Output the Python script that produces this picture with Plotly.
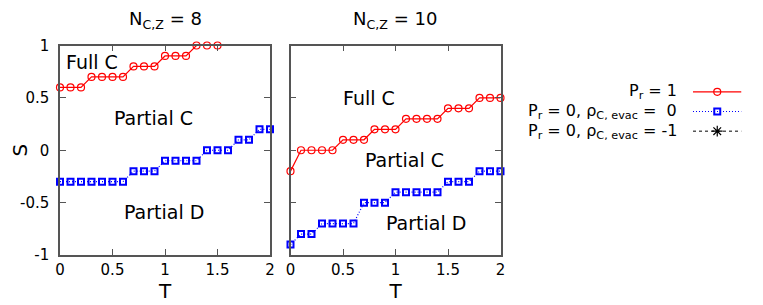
import plotly.graph_objects as go

T_red_left = [0.0, 0.1, 0.2, 0.3, 0.4, 0.5, 0.6, 0.7, 0.8, 0.9, 1.0, 1.1, 1.2, 1.3, 1.4, 1.5]
S_red_left = [0.6, 0.6, 0.6, 0.7, 0.7, 0.7, 0.7, 0.8, 0.8, 0.8, 0.9, 0.9, 0.9, 1.0, 1.0, 1.0]
T_full = [0.0, 0.1, 0.2, 0.3, 0.4, 0.5, 0.6, 0.7, 0.8, 0.9, 1.0,
          1.1, 1.2, 1.3, 1.4, 1.5, 1.6, 1.7, 1.8, 1.9, 2.0]
S_blue_left = [-0.3, -0.3, -0.3, -0.3, -0.3, -0.3, -0.3, -0.2, -0.2, -0.2, -0.1,
               -0.1, -0.1, -0.1, 0.0, 0.0, 0.0, 0.1, 0.1, 0.2, 0.2]
S_red_right = [-0.2, 0.0, 0.0, 0.0, 0.0, 0.1, 0.1, 0.1, 0.2, 0.2, 0.2,
               0.3, 0.3, 0.3, 0.3, 0.4, 0.4, 0.4, 0.5, 0.5, 0.5]
S_blue_right = [-0.9, -0.8, -0.8, -0.7, -0.7, -0.7, -0.7, -0.5, -0.5, -0.5, -0.4,
                -0.4, -0.4, -0.4, -0.4, -0.3, -0.3, -0.3, -0.2, -0.2, -0.2]

panel_titles = ["N<sub>C,Z</sub> = 8", "N<sub>C,Z</sub> = 10"]
legend_labels = ["P<sub>r</sub> = 1",
                 "P<sub>r</sub> = 0, ρ<sub>C, evac</sub> =  0",
                 "P<sub>r</sub> = 0, ρ<sub>C, evac</sub> = -1"]
x_ticks = [0, 0.5, 1, 1.5, 2]
x_ticklabels = ["0", "0.5", "1", "1.5", "2"]
y_ticks = [-1, -0.5, 0, 0.5, 1]
y_ticklabels = ["-1", "-0.5", "0", "0.5", "1"]

FONT = "DejaVu Sans"
RED = "#ff0000"
BLUE = "#0000ff"
AX = "#555555"

# page body has an 8px margin: size the figure so it ends at the window edge
OFF = 8
W, H = 763 - OFF, 305 - OFF


def px(x):
    return (x - OFF) / W


def py(y):
    return 1 - (y - OFF) / H


fig = go.Figure()

red_style = dict(mode="lines+markers", line=dict(color=RED, width=1.2),
                 marker=dict(symbol="circle-open", size=7, color=RED, line=dict(width=1.2)),
                 cliponaxis=False, showlegend=False)
blue_style = dict(mode="lines+markers", line=dict(color=BLUE, width=1.2, dash="1px,2px"),
                  marker=dict(symbol="square-open", size=6, color=BLUE, line=dict(width=2)),
                  cliponaxis=False, showlegend=False)

fig.add_trace(go.Scatter(x=T_red_left, y=S_red_left, xaxis="x", yaxis="y", **red_style))
fig.add_trace(go.Scatter(x=T_full, y=S_blue_left, xaxis="x", yaxis="y", **blue_style))
fig.add_trace(go.Scatter(x=T_full, y=S_red_right, xaxis="x2", yaxis="y2", **red_style))
fig.add_trace(go.Scatter(x=T_full, y=S_blue_right, xaxis="x2", yaxis="y2", **blue_style))

# custom legend (samples on right, text right-aligned to the left)
leg_y = [2, 1, 0]
fig.add_trace(go.Scatter(x=[0, 1], y=[leg_y[0]] * 2, xaxis="x3", yaxis="y3", mode="lines",
                         line=dict(color=RED, width=1.2), showlegend=False, hoverinfo="skip"))
fig.add_trace(go.Scatter(x=[0.5], y=[leg_y[0]], xaxis="x3", yaxis="y3", mode="markers",
                         marker=dict(symbol="circle-open", size=7, color=RED, line=dict(width=1.2)),
                         showlegend=False, hoverinfo="skip"))
fig.add_trace(go.Scatter(x=[0, 1], y=[leg_y[1]] * 2, xaxis="x3", yaxis="y3", mode="lines",
                         line=dict(color=BLUE, width=1.2, dash="1px,2px"), showlegend=False, hoverinfo="skip"))
fig.add_trace(go.Scatter(x=[0.5], y=[leg_y[1]], xaxis="x3", yaxis="y3", mode="markers",
                         marker=dict(symbol="square-open", size=6, color=BLUE, line=dict(width=2)),
                         showlegend=False, hoverinfo="skip"))
fig.add_trace(go.Scatter(x=[0, 1], y=[leg_y[2]] * 2, xaxis="x3", yaxis="y3", mode="lines",
                         line=dict(color="black", width=1, dash="3px,3px"), showlegend=False, hoverinfo="skip"))
fig.add_trace(go.Scatter(x=[0.5], y=[leg_y[2]], xaxis="x3", yaxis="y3", mode="markers",
                         marker=dict(symbol="asterisk-open", size=9, color="black", line=dict(width=1.2)),
                         showlegend=False, hoverinfo="skip"))

axis_common = dict(range=[0, 2], tickvals=x_ticks, ticktext=x_ticklabels, ticks="inside",
                   ticklen=6, tickcolor=AX, showline=True, linecolor=AX, linewidth=1.5,
                   mirror="ticks", showgrid=False, zeroline=False, automargin=False,
                   tickfont=dict(family=FONT, size=15, color="black"),
                   title=dict(text="T", font=dict(family=FONT, size=20, color="black"), standoff=3))
yaxis_common = dict(range=[-1, 1], tickvals=y_ticks, ticktext=y_ticklabels, ticks="inside",
                    ticklen=6, tickcolor=AX, showline=True, linecolor=AX, linewidth=1.5,
                    mirror="ticks", showgrid=False, zeroline=False, automargin=False,
                    tickfont=dict(family=FONT, size=15, color="black"))

y0, y1 = py(255), py(45.5)
fig.update_layout(
    width=W, height=H,
    margin=dict(l=0, r=0, t=0, b=0, autoexpand=False),
    paper_bgcolor="white", plot_bgcolor="white",
    font=dict(family=FONT, color="black"),
    xaxis=dict(domain=[px(60), px(270)], anchor="y", **axis_common),
    yaxis=dict(domain=[y0, y1], anchor="x", ticklabelstandoff=6,
               title=dict(text="S", font=dict(family=FONT, size=20, color="black"), standoff=12),
               **yaxis_common),
    xaxis2=dict(domain=[px(290.5), px(500.5)], anchor="y2", **axis_common),
    yaxis2=dict(domain=[y0, y1], anchor="x2", showticklabels=False, **yaxis_common),
    xaxis3=dict(domain=[px(693), px(741.5)], anchor="y3", range=[0, 1], visible=False),
    yaxis3=dict(domain=[py(141), py(82)], anchor="x3", range=[-0.5, 2.5], visible=False),
)

ann = []
for i, (t, xc) in enumerate(zip(panel_titles, [165, 395.5])):
    ann.append(dict(text=t, x=px(xc), y=py(20), xref="paper", yref="paper",
                    showarrow=False, font=dict(family=FONT, size=18, color="black"),
                    xanchor="center", yanchor="middle"))
labels = [("x", "y", 0.305, 0.845, "Full C"), ("x", "y", 0.886, 0.31, "Partial C"),
          ("x", "y", 0.99, -0.59, "Partial D"), ("x2", "y2", 0.752, 0.503, "Full C"),
          ("x2", "y2", 1.084, -0.095, "Partial C"), ("x2", "y2", 1.289, -0.697, "Partial D")]
for xr, yr, xv, yv, t in labels:
    ann.append(dict(text=t, x=xv, y=yv, xref=xr, yref=yr, showarrow=False,
                    font=dict(family=FONT, size=19, color="black"),
                    xanchor="center", yanchor="middle"))
for lab, ly in zip(legend_labels, leg_y):
    ann.append(dict(text=lab, x=0, y=ly, xref="x3", yref="y3", xshift=-14, showarrow=False,
                    font=dict(family=FONT, size=16, color="black"),
                    xanchor="right", yanchor="middle"))
fig.update_layout(annotations=ann)

fig.write_html("out.html")
